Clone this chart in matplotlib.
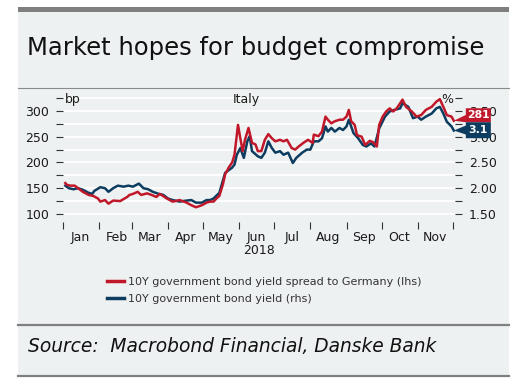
import numpy as np
import pandas as pd
import matplotlib
matplotlib.use('Agg')
import matplotlib.pyplot as plt
import matplotlib.dates as mdates
from matplotlib.patches import Rectangle, Polygon
from matplotlib.lines import Line2D
from matplotlib.ticker import MultipleLocator, FormatStrFormatter, NullFormatter
from matplotlib.transforms import ScaledTranslation

# spread to Germany (bp, lhs): day of year 2018 -> value
red_days = [2, 3, 6, 10, 13, 17, 22, 26, 30, 32, 36, 39, 43, 49, 55, 57, 60, 64, 67, 72,
            76, 80, 83, 89, 94, 100, 106, 110, 114, 119, 123, 126, 129, 132, 134, 137, 139,
            142, 145, 147, 150, 152, 154, 156, 159, 162, 165, 167, 170, 173, 176, 179, 182,
            186, 189, 192, 196, 199, 202, 206, 210, 214, 215, 219, 222, 225, 227, 230, 233,
            237, 240, 243, 245, 247, 250, 252, 256, 259, 263, 266, 269, 271, 274, 277, 280,
            283, 286, 289, 291, 294, 299, 303, 307, 311, 316, 320, 323, 326, 329, 333, 335]
red_vals = [160, 157, 155, 155, 150, 143, 137, 135, 130, 124, 127, 120, 126, 125, 133, 137,
            139, 143, 137, 140, 137, 133, 139, 130, 124, 127, 122, 117, 113, 117, 122, 124,
            124, 131, 135, 157, 177, 190, 200, 215, 273, 247, 222, 244, 267, 238, 235, 222,
            222, 244, 255, 247, 241, 244, 241, 244, 228, 225, 231, 238, 244, 238, 254, 251,
            260, 289, 283, 276, 280, 283, 283, 289, 302, 280, 273, 253, 250, 234, 242, 239,
            231, 273, 289, 299, 305, 299, 305, 315, 322, 308, 299, 289, 292, 302, 308, 318,
            323, 308, 292, 289, 281]

# 10Y yield (%, rhs)
blue_days = [2, 5, 9, 13, 17, 22, 25, 27, 32, 36, 39, 43, 47, 52, 56, 60, 65, 69, 73, 77,
             82, 86, 90, 94, 100, 106, 110, 114, 119, 123, 126, 129, 134, 139, 145, 147, 149,
             152, 155, 158, 160, 162, 167, 170, 173, 176, 179, 182, 186, 189, 193, 197, 200,
             205, 209, 212, 215, 219, 222, 225, 227, 230, 233, 237, 240, 243, 245, 249, 253,
             257, 260, 264, 267, 271, 276, 280, 284, 289, 291, 296, 300, 304, 307, 311, 316,
             320, 323, 326, 329, 333, 335]
blue_vals = [2.05, 2.00, 1.98, 2.00, 1.97, 1.91, 1.89, 1.95, 2.02, 2.00, 1.93, 2.00, 2.05,
             2.03, 2.05, 2.03, 2.09, 2.00, 1.98, 1.93, 1.89, 1.87, 1.80, 1.77, 1.74, 1.76,
             1.77, 1.72, 1.72, 1.77, 1.77, 1.80, 1.91, 2.30, 2.40, 2.46, 2.65, 2.78, 2.59,
             2.91, 3.01, 2.72, 2.62, 2.59, 2.69, 2.91, 2.78, 2.69, 2.72, 2.65, 2.69, 2.49,
             2.59, 2.69, 2.75, 2.75, 2.91, 2.91, 2.97, 3.20, 3.10, 3.17, 3.10, 3.17, 3.13,
             3.20, 3.33, 3.07, 2.97, 2.84, 2.81, 2.87, 2.81, 3.16, 3.39, 3.49, 3.52, 3.55,
             3.65, 3.58, 3.36, 3.39, 3.33, 3.39, 3.45, 3.55, 3.58, 3.45, 3.29, 3.20, 3.12]

labels = ['10Y government bond yield spread to Germany (lhs)', '10Y government bond yield (rhs)']

RED = '#c0182a'
BLUE = '#0c3c5f'
BG = '#eef1f2'
TXT = '#1a1a1a'

base = pd.Timestamp('2018-01-01')
red_dates = base + pd.to_timedelta(red_days, unit='D')
blue_dates = base + pd.to_timedelta(blue_days, unit='D')

W, H = 527, 384
def fx(x):
    return x / W
def fy(y):
    return 1 - y / H

fig = plt.figure(figsize=(W / 100, H / 100), dpi=100)
fig.patch.set_facecolor('white')

# panel, bars and rules
fig.patches.append(Rectangle((fx(18), fy(376)), fx(509) - fx(18), fy(7) - fy(376),
                             transform=fig.transFigure, facecolor=BG, edgecolor='none', zorder=0))
fig.patches.append(Rectangle((fx(18), fy(12)), fx(509) - fx(18), fy(7) - fy(12),
                             transform=fig.transFigure, facecolor='#7f7f7f', edgecolor='none', zorder=1))
fig.add_artist(Line2D([fx(18), fx(509)], [fy(88), fy(88)], color='#8a8a8a', lw=0.8))
fig.add_artist(Line2D([fx(18), fx(509)], [fy(325), fy(325)], color='#808080', lw=1.6))
fig.add_artist(Line2D([fx(18), fx(509)], [fy(375.5), fy(375.5)], color='#808080', lw=1.6))

fig.text(fx(27), fy(54.5), 'Market hopes for budget compromise', fontsize=17.5,
         color='#111111', ha='left', va='baseline')
fig.text(fx(28), fy(352), 'Source:  Macrobond Financial, Danske Bank', fontsize=13.4,
         style='italic', color='#111111', ha='left', va='baseline')

ax = fig.add_axes([fx(63), fy(221.7), (455 - 63) / W, 126.2 / H])
ax2 = ax.twinx()
ax.set_zorder(2)
ax2.set_zorder(1)
ax.patch.set_visible(False)
ax2.patch.set_visible(False)
for a in (ax, ax2):
    for s in a.spines.values():
        s.set_visible(False)

ax2.plot(blue_dates, blue_vals, color=BLUE, lw=1.8, solid_joinstyle='round')
ax.plot(red_dates, red_vals, color=RED, lw=1.8, solid_joinstyle='round')

ax.set_xlim(pd.Timestamp('2018-01-01'), pd.Timestamp('2018-12-03'))
ax.set_ylim(85, 330)
ax2.set_ylim(1.35, 3.80)

ax.yaxis.set_major_locator(MultipleLocator(50))
ax.yaxis.set_minor_locator(MultipleLocator(25))
ax2.yaxis.set_major_locator(MultipleLocator(0.5))
ax2.yaxis.set_minor_locator(MultipleLocator(0.25))
ax2.yaxis.set_major_formatter(FormatStrFormatter('%.2f'))
ax2.grid(which='both', axis='y', color='white', lw=1.3)
ax2.set_axisbelow(True)

for a in (ax, ax2):
    a.tick_params(axis='y', which='both', length=5, width=0.8, color='#333333',
                  pad=5, labelsize=9, labelcolor=TXT, direction='out')

ax.xaxis.set_major_locator(mdates.MonthLocator())
ax.xaxis.set_major_formatter(NullFormatter())
ax.xaxis.set_minor_locator(mdates.MonthLocator(bymonthday=16))
ax.xaxis.set_minor_formatter(mdates.DateFormatter('%b'))
ax.tick_params(axis='x', which='major', length=5, width=0.8, color='#333333', direction='out')
ax.tick_params(axis='x', which='minor', length=0, pad=7, labelsize=9, labelcolor=TXT)
ax.set_xlabel('2018', fontsize=9, color=TXT, labelpad=0)

ax.text(0.005, 0.972, 'bp', transform=ax.transAxes, fontsize=9, color=TXT, ha='left', va='center')
ax.text(0.467, 0.972, 'Italy', transform=ax.transAxes, fontsize=9, color=TXT, ha='center', va='center')
ax.text(0.995, 0.972, '%', transform=ax.transAxes, fontsize=9, color=TXT, ha='right', va='center')

# end-value labels pointing at the last points
def end_label(data_ax, xval, yval, verts, text_y, text, color):
    tr = fig.dpi_scale_trans + ScaledTranslation(mdates.date2num(xval), yval, data_ax.transData)
    ax.add_patch(Polygon(verts, closed=True, transform=tr, facecolor=color,
                         edgecolor='none', clip_on=False, zorder=10))
    ax.text(0.245, text_y, text, transform=tr, color='white', fontsize=7.8,
            fontweight='bold', ha='center', va='center', zorder=11, clip_on=False)

end_label(ax, red_dates[-1], red_vals[-1],
          [(0, 0), (0.12, 0.058), (0.12, 0.125), (0.37, 0.125), (0.37, -0.015), (0.12, -0.015)],
          0.055, f'{red_vals[-1]:.0f}', RED)
end_label(ax2, blue_dates[-1], blue_vals[-1],
          [(0, 0), (0.12, 0.05), (0.12, 0.083), (0.37, 0.083), (0.37, -0.077), (0.12, -0.077),
           (0.12, -0.04)],
          0.003, f'{blue_vals[-1]:.1f}', BLUE)

handles = [Line2D([], [], color=RED, lw=2.5), Line2D([], [], color=BLUE, lw=2.5)]
fig.legend(handles, labels, loc='upper left', bbox_to_anchor=(fx(107), fy(277)),
           frameon=False, fontsize=8, handlelength=1.55, handletextpad=0.35,
           labelspacing=0.65, borderpad=0, borderaxespad=0, labelcolor='#333333')

fig.savefig('out.png', dpi=100)
